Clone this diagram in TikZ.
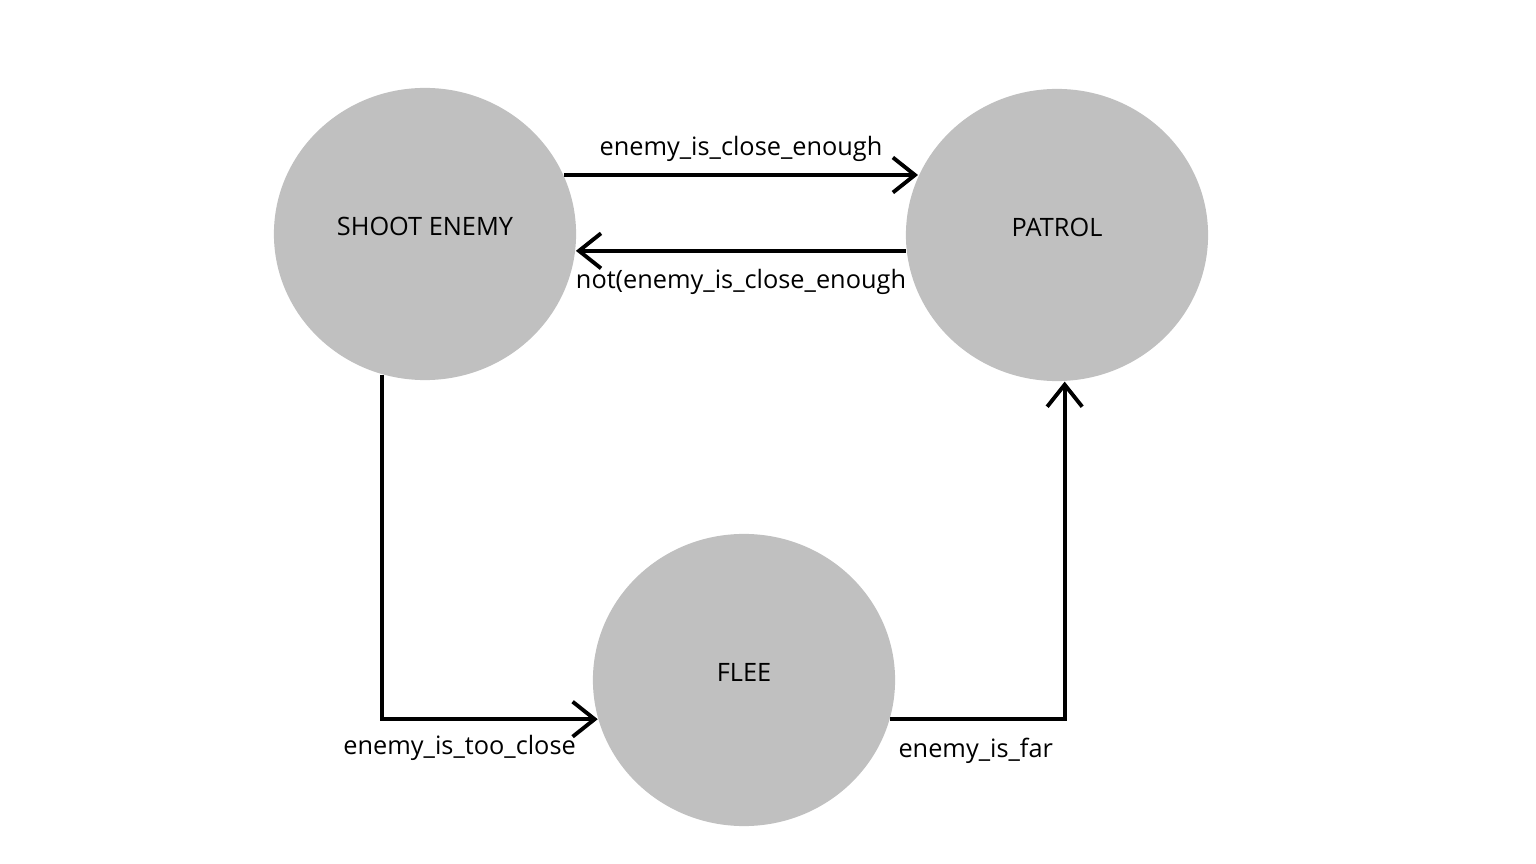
\documentclass[tikz,border=0pt]{standalone}
\usepackage{fontspec}
\setmainfont{Open Sans}
\usepackage{tikz}
\usetikzlibrary{shapes.geometric, arrows.meta, positioning, calc}
\definecolor{stategray}{RGB}{192,192,192}

\begin{document}
\begin{tikzpicture}[
    x=0.01cm, y=-0.01cm,
    state/.style={ellipse, fill=stategray, minimum width=3.02cm, minimum height=2.92cm, inner sep=0pt, text depth=0.16cm, font=\fontsize{7.2}{9}\selectfont},
    arrow/.style={-{Straight Barb[length=2.2mm, width=3.5mm]}, line width=1.1pt},
    lbl/.style={font=\fontsize{7.2}{9}\selectfont, inner sep=1pt}
]
\useasboundingbox (0,0) rectangle (1536,864);

% states
\node[state] (shoot) at (425,234) {SHOOT ENEMY};
\node[state] (patrol) at (1057,235) {PATROL};
\node[state] (flee) at (744,680) {FLEE};

% shoot <-> patrol
\draw[arrow] (shoot.23) -- (patrol.157 |- shoot.23) node[lbl, midway, above=0.08cm] {enemy\_is\_close\_enough};
\draw[arrow] (patrol.186) -- (shoot.-6 |- patrol.186) node[lbl, midway, below=0.13cm] {not(enemy\_is\_close\_enough};

% shoot -> flee -> patrol
\draw[arrow] (shoot.253) |- (flee.195) node[lbl, pos=0.68, below=0.11cm] {enemy\_is\_too\_close};
\draw[arrow] (flee.-15) -| (patrol.273) node[lbl, pos=0.245, below=0.13cm] {enemy\_is\_far};

\end{tikzpicture}
\end{document}
